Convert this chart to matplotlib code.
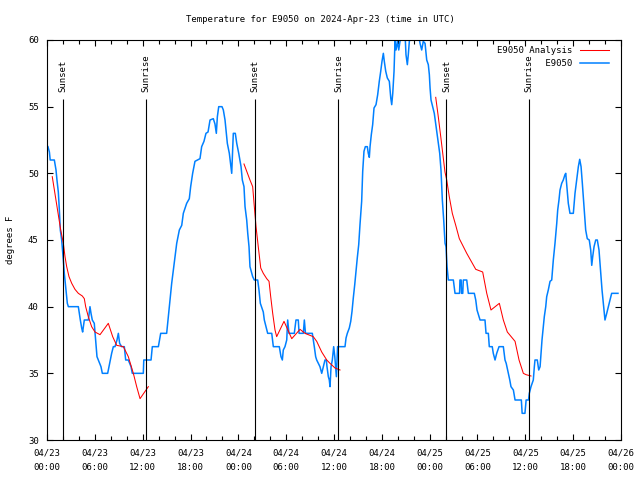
import matplotlib
matplotlib.use('Agg')
import matplotlib.pyplot as plt
from matplotlib.ticker import MultipleLocator, FixedLocator

plt.rcParams['font.family'] = ['DejaVu Sans Mono', 'DejaVu Sans']
FS = 6.5

# ---- data: hours since 2024-04-23 00:00 UTC, temperature in °F ----
obs_hours = [0.12, 0.30, 0.40, 0.92, 1.13, 1.25, 1.42, 1.55, 1.67, 1.84, 2.05, 2.17, 2.34, 2.55, 2.68,
             3.93, 4.05, 4.18, 4.35, 4.47, 4.68, 5.19, 5.39, 5.52, 5.68, 5.93, 6.10, 6.27, 6.44, 6.77,
             6.94, 7.61, 7.78, 7.94, 8.11, 8.32, 8.53, 8.78, 8.95, 9.11, 9.36, 9.70, 9.87, 10.20, 10.54,
             10.70, 12.08, 12.14, 13.05, 13.21, 13.97, 14.26, 15.01, 15.22, 15.43, 15.64, 15.85, 16.06,
             16.27, 16.60, 16.90, 17.10, 17.52, 17.85, 18.02, 18.27, 18.56, 19.19, 19.40, 19.69, 19.94,
             20.20, 20.45, 20.86, 21.07, 21.24, 21.37, 21.54, 21.95, 22.12, 22.33, 22.62, 22.87, 23.17,
             23.37, 23.62, 23.80, 24.05, 24.34, 24.50, 24.71, 24.84, 25.05, 25.18, 25.34, 25.46, 25.80,
             26.00, 26.43, 26.59, 26.76, 27.13, 27.26, 27.68, 28.19, 28.39, 29.14, 29.35, 29.52, 29.64,
             29.85, 30.07, 30.19, 30.35, 31.02, 31.23, 31.52, 31.62, 32.15, 32.28, 32.42, 33.28, 33.53,
             33.70, 33.83, 34.03, 34.24, 34.46, 34.66, 34.87, 35.04, 35.12, 35.29, 35.41, 35.50, 35.63,
             35.79, 35.96, 36.10, 36.30, 36.45, 37.38, 37.51, 37.67, 37.92, 38.10, 38.26, 38.42, 38.60,
             38.76, 38.92, 39.10, 39.26, 39.47, 39.60, 39.76, 39.93, 40.18, 40.30, 40.43, 40.52, 40.68,
             40.85, 41.02, 41.27, 41.48, 41.68, 41.86, 42.02, 42.19, 42.31, 42.49, 42.69, 42.94, 43.12,
             43.24, 43.37, 43.53, 43.65, 43.78, 43.95, 44.12, 44.28, 44.49, 44.91, 45.03, 45.20, 45.32,
             45.45, 45.74, 46.58, 46.79, 47.00, 47.20, 47.42, 47.63, 47.83, 47.96, 48.05, 48.17, 48.58,
             48.75, 48.92, 49.10, 49.26, 49.42, 49.59, 49.76, 49.93, 50.05, 50.18, 50.34, 50.97, 51.18,
             51.75, 51.80, 51.95, 52.00, 52.15, 52.22, 52.65, 52.85, 53.60, 53.78, 53.94, 54.32, 54.94,
             55.07, 55.36, 55.48, 55.85, 55.98, 56.20, 56.41, 56.70, 57.24, 57.45, 57.60, 57.87, 58.05,
             58.20, 58.50, 58.71, 59.50, 59.60, 59.95, 60.10, 60.40, 60.50, 60.71, 61.00, 61.13, 61.21,
             61.50, 61.68, 61.85, 61.97, 62.09, 62.26, 62.38, 62.56, 62.68, 62.88, 63.10, 63.31, 63.51,
             63.72, 63.94, 64.06, 64.22, 64.35, 64.56, 64.76, 64.97, 65.07, 65.39, 65.60, 66.02, 66.23,
             66.44, 66.65, 66.82, 66.99, 67.15, 67.36, 67.57, 67.77, 68.02, 68.20, 68.33, 68.45, 68.62,
             68.83, 69.03, 69.24, 69.46, 69.62, 69.78, 69.99, 70.21, 70.41, 70.62, 70.83, 71.62]
obs_temp = [52.0, 51.6, 51.0, 51.0, 50.25, 49.5, 48.6, 47.25, 45.75, 45.0, 43.5, 42.5, 41.5, 40.25, 40.0,
            40.0, 39.5, 39.0, 38.4, 38.1, 39.0, 39.0, 40.0, 39.5, 39.0, 38.75, 37.5, 36.25, 36.0, 35.5,
            35.0, 35.0, 35.5, 36.0, 36.5, 37.0, 37.0, 37.5, 38.0, 37.25, 37.0, 37.0, 36.0, 36.0, 35.5,
            35.0, 35.0, 36.0, 36.0, 37.0, 37.0, 38.0, 38.0, 39.25, 40.5, 41.75, 42.75, 43.75,
            44.75, 45.75, 46.1, 47.0, 47.75, 48.1, 49.0, 50.0, 50.9, 51.1, 52.0, 52.4, 53.0,
            53.1, 54.0, 54.1, 53.7, 53.0, 54.25, 55.0, 55.0, 54.75, 54.0, 52.25, 51.5, 50.0,
            53.0, 53.0, 52.25, 51.5, 50.5, 49.5, 49.0, 47.5, 46.5, 45.5, 44.5, 43.0, 42.25,
            42.0, 42.0, 41.25, 40.25, 39.6, 39.0, 38.0, 38.0, 37.0, 37.0, 36.25, 36.0, 36.75,
            37.0, 37.5, 39.0, 38.0, 38.0, 39.0, 39.0, 38.0, 38.0, 39.0, 38.0, 38.0, 37.0,
            36.25, 36.0, 35.75, 35.5, 35.0, 35.5, 36.0, 36.0, 35.5, 34.75, 34.5, 34.0, 35.5,
            36.0, 37.0, 36.25, 34.75, 37.0, 37.0, 37.65, 38.0, 38.4, 38.9, 39.65, 40.65, 41.65,
            42.65, 43.65, 44.65, 46.15, 47.9, 50.15, 51.65, 52.0, 52.0, 51.5, 51.2, 52.0, 52.9,
            53.65, 54.9, 55.15, 55.9, 56.9, 57.65, 58.4, 59.0, 58.4, 57.65, 57.15, 56.9, 55.65,
            55.15, 56.0, 57.65, 59.9, 59.25, 59.9, 59.25, 59.9, 60.5, 60.5, 58.9, 58.15, 58.9,
            59.9, 60.5, 60.5, 59.75, 59.25, 59.9, 59.75, 58.5, 58.15, 57.4, 56.4, 55.5, 54.5,
            53.75, 53.0, 52.25, 51.5, 50.25, 48.0, 46.5, 44.75, 44.5, 43.0, 42.0, 42.0, 41.0,
            41.0, 42.0, 42.0, 41.0, 41.0, 42.0, 42.0, 41.0, 41.0, 40.5, 39.75, 39.0, 39.0,
            38.0, 38.0, 37.0, 37.0, 36.5, 36.0, 36.5, 37.0, 37.0, 36.0, 35.75, 35.0, 34.5,
            34.0, 33.75, 33.0, 33.0, 32.0, 32.0, 33.0, 33.0, 33.5, 34.0, 34.5, 35.5, 36.0,
            36.0, 35.25, 35.5, 36.5, 37.5, 38.5, 39.25, 40.0, 40.75, 41.25, 41.9, 42.0, 43.5,
            44.75, 46.25, 47.25, 48.0, 48.75, 49.25, 49.5, 49.9, 50.0, 47.75, 47.0, 47.0, 48.5,
            49.5, 50.5, 51.05, 50.5, 49.25, 47.5, 45.75, 45.1, 45.0, 44.25, 43.1, 43.75, 44.5,
            45.0, 45.0, 44.25, 42.5, 41.25, 40.25, 39.0, 39.5, 40.0, 40.5, 41.0, 41.0]

ana1_hours = [0.66, 1.72, 2.05, 2.26, 2.47, 2.76, 3.1, 3.51, 3.93, 4.43, 4.68, 4.85, 5.18, 5.6, 6.02,
              6.65, 7.69, 8.24, 8.74, 9.58, 10.2, 10.83, 11.25, 11.67, 12.71]
ana1_temp = [49.75, 45.75, 44.75, 43.75, 43.0, 42.25, 41.75, 41.3, 41.0, 40.8, 40.6, 40.0, 39.25, 38.5, 38.1,
             37.9, 38.75, 37.75, 37.1, 37.0, 36.25, 35.0, 34.0, 33.1, 34.0]
ana2_hours = [24.71, 25.46, 25.8, 25.97, 26.22, 26.5, 26.81, 27.13, 27.56, 27.85, 28.06, 28.31, 28.6,
              28.81, 29.73, 30.7, 31.74, 32.36, 33.4, 33.83, 34.46, 35.09, 35.5, 36.13, 36.75]
ana2_temp = [50.7, 49.5, 49.0, 47.75, 46.0, 44.5, 42.9, 42.5, 42.1, 41.9, 40.75, 39.5, 38.25,
             37.75, 38.9, 37.6, 38.3, 38.0, 37.75, 37.4, 36.6, 36.0, 35.75, 35.4, 35.25]
ana3_hours = [48.76, 49.08, 49.39, 49.64, 49.92, 50.14, 50.46, 50.84, 51.27, 51.72, 52.65, 53.78, 54.65,
              55.16, 55.69, 56.74, 57.24, 57.74, 58.71, 59.21, 59.75, 60.09, 60.71]
ana3_temp = [55.7, 54.25, 52.75, 51.5, 50.1, 49.5, 48.25, 47.0, 46.1, 45.1, 44.0, 42.8, 42.6,
             41.0, 39.75, 40.25, 39.0, 38.1, 37.4, 36.0, 35.0, 34.9, 34.8]

sunset_hours = [2.05, 26.1, 50.1]
sunrise_hours = [12.45, 36.55, 60.5]
sun_line_top = 55.6
sun_label_y = 56.1

tick_hours = [0, 6, 12, 18, 24, 30, 36, 42, 48, 54, 60, 66, 72]
tick_labels = ['04/23\n00:00', '04/23\n06:00', '04/23\n12:00', '04/23\n18:00',
               '04/24\n00:00', '04/24\n06:00', '04/24\n12:00', '04/24\n18:00',
               '04/25\n00:00', '04/25\n06:00', '04/25\n12:00', '04/25\n18:00',
               '04/26\n00:00']
y_ticks = [30, 35, 40, 45, 50, 55, 60]

RED = '#ff0000'
BLUE = '#0080ff'

fig = plt.figure(figsize=(6.4, 4.8), dpi=100)
ax = fig.add_axes([47 / 640, 40 / 480, 574 / 640, 400 / 480])

l_red, = ax.plot(ana1_hours, ana1_temp, color=RED, lw=0.75, zorder=3)
ax.plot(ana2_hours, ana2_temp, color=RED, lw=0.75, zorder=3)
ax.plot(ana3_hours, ana3_temp, color=RED, lw=0.75, zorder=3)
l_blue, = ax.plot(obs_hours, obs_temp, color=BLUE, lw=1.1, zorder=2)

ax.vlines(sunset_hours + sunrise_hours, 30, sun_line_top, color='black', lw=0.8, zorder=4)
for h in sunset_hours:
    ax.text(h, sun_label_y, 'Sunset', rotation=90, ha='center', va='bottom', fontsize=FS)
for h in sunrise_hours:
    ax.text(h, sun_label_y, 'Sunrise', rotation=90, ha='center', va='bottom', fontsize=FS)

ax.set_xlim(0, 72)
ax.set_ylim(30, 60)
ax.xaxis.set_major_locator(FixedLocator(tick_hours))
ax.set_xticklabels(tick_labels)
ax.xaxis.set_minor_locator(MultipleLocator(2))
ax.set_yticks(y_ticks)
ax.set_yticklabels([str(v) for v in y_ticks])
ax.tick_params(which='both', direction='in', top=True, right=True, width=0.8, labelsize=FS)
ax.tick_params(which='major', length=4)
ax.tick_params(which='minor', length=3)
ax.tick_params(axis='x', pad=6)
ax.tick_params(axis='y', pad=6)
for lbl in ax.get_xticklabels():
    lbl.set_linespacing(1.8)
for s in ax.spines.values():
    s.set_linewidth(0.8)

leg = ax.legend([l_red, l_blue], ['E9050 Analysis', '         E9050'], loc='upper right',
                frameon=False, markerfirst=False, fontsize=FS, handlelength=3.2,
                handletextpad=0.8, labelspacing=0.45, borderaxespad=0.3,
                bbox_to_anchor=(1.0 - 6 / 574, 1.001))

fig.text(0.5, 1 - 20 / 480, 'Temperature for E9050 on 2024-Apr-23 (time in UTC)',
         ha='center', va='center', fontsize=FS)
fig.text(11 / 640, 0.5, 'degrees F', rotation=90, ha='center', va='center', fontsize=FS)

fig.savefig('out.png', dpi=100)
